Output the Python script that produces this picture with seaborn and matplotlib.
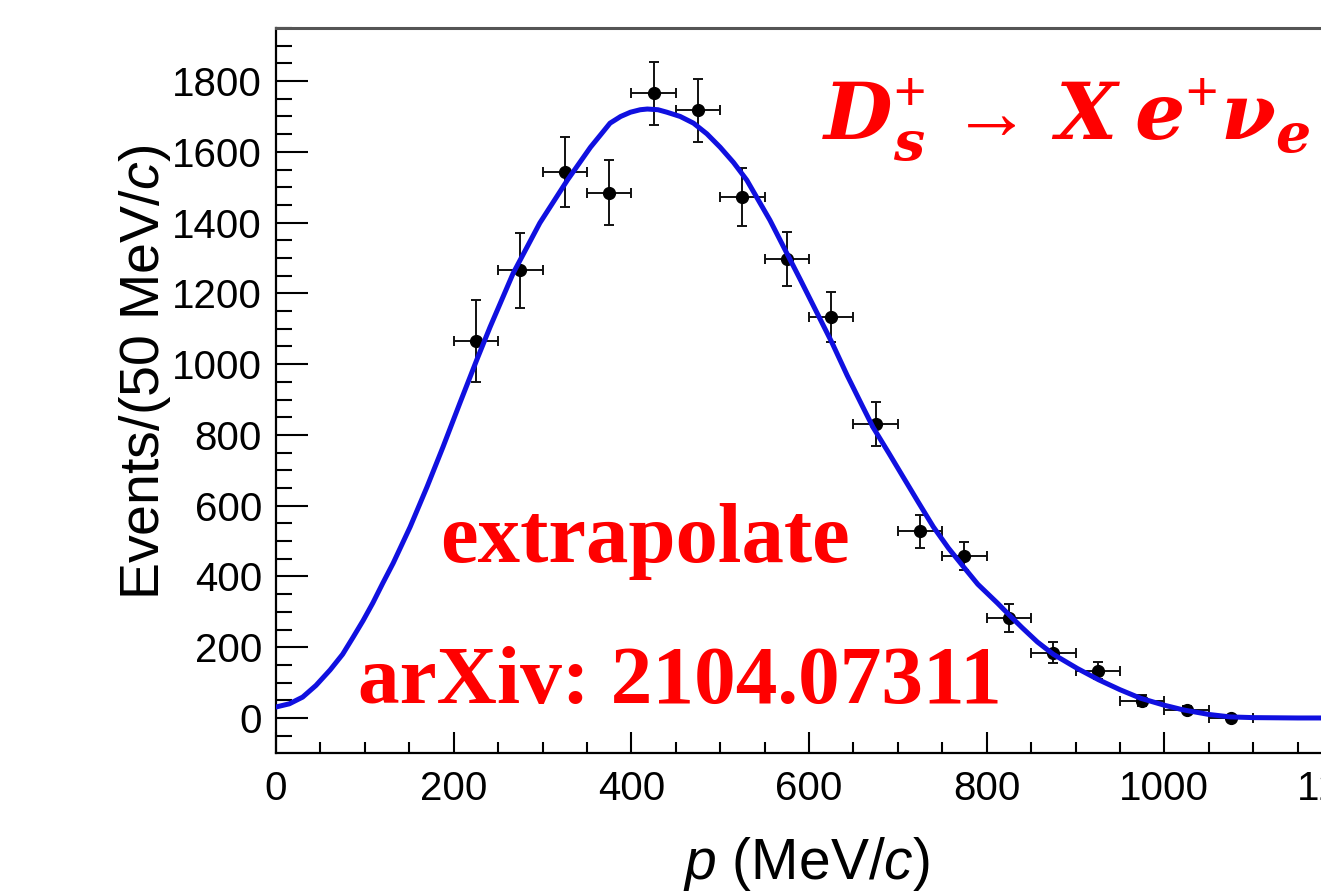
import matplotlib
matplotlib.use("Agg")
import matplotlib.pyplot as plt
from matplotlib.ticker import MultipleLocator
import seaborn as sns
import pandas as pd

# ---- data ----
bin_centers = [225, 275, 325, 375, 425, 475, 525, 575, 625, 675,
               725, 775, 825, 875, 925, 975, 1025, 1075]
events = [1066, 1265, 1544, 1485, 1765, 1718, 1471, 1297, 1133, 831,
          528, 458, 283, 185, 134, 49, 23, 1]
events_err = [116, 105, 99, 93, 88, 89, 82, 77, 71, 63,
              47, 40, 40, 30, 23, 15, 10, 6]
bin_halfwidth = [25] * len(bin_centers)

fit_p = [0, 15, 30, 45, 61, 75, 87, 98, 109, 120, 132, 151, 170, 188, 207,
         226, 241, 267, 297, 328, 354, 366, 376, 388, 399, 410, 418, 430,
         440, 455, 470, 485, 500, 515, 530, 556, 579, 590, 605, 615, 626,
         643, 660, 672, 690, 706, 723, 740, 757, 774, 790, 812, 825, 840,
         857, 875, 902, 926, 950, 973, 1000, 1021, 1050, 1074, 1100, 1150,
         1200]
fit_val = [31, 40, 59, 92, 136, 180, 229, 275, 325, 380, 438, 540, 653, 766,
           890, 1012, 1105, 1257, 1399, 1520, 1613, 1650, 1681, 1700, 1712,
           1719, 1721, 1719, 1712, 1700, 1681, 1651, 1613, 1570, 1520, 1407,
           1294, 1240, 1165, 1115, 1060, 968, 882, 822, 748, 681, 610, 540,
           480, 427, 378, 325, 292, 255, 215, 180, 140, 108, 80, 56, 36, 23,
           10, 3, 1, 0, 0]

x_major = 200
x_minor = 50
y_major = 200
y_minor = 50

x_label = r"$p$ (MeV/$c$)"
y_label = r"Events/(50 MeV/$c$)"
decay_label = (r"$\mathbfit{D}_{\mathbfit{s}}^{+}\,\rightarrow\,\mathbfit{X}\;"
               r"\mathbfit{e}^{+}\mathbfit{\nu}_{\mathbfit{e}}$")
text_extrap = "extrapolate"
text_arxiv = "arXiv: 2104.07311"

# ---- style ----
sns.set_theme(style="ticks")
plt.rcParams["font.family"] = ["Liberation Sans", "DejaVu Sans"]
plt.rcParams["mathtext.fontset"] = "custom"
plt.rcParams["mathtext.rm"] = "Liberation Sans"
plt.rcParams["mathtext.it"] = "Liberation Sans:italic"
plt.rcParams["mathtext.bf"] = "DejaVu Serif:bold"
plt.rcParams["mathtext.bfit"] = "DejaVu Serif:italic:bold"
plt.rcParams["text.color"] = "black"
plt.rcParams["axes.labelcolor"] = "black"

fig = plt.figure(figsize=(13.21, 8.91), dpi=100)
ax = fig.add_axes([276 / 1321, 138 / 891, 1066 / 1321, 725 / 891])

df_fit = pd.DataFrame({"p": fit_p, "val": fit_val})
df_pts = pd.DataFrame({"p": bin_centers, "n": events,
                       "err": events_err, "xerr": bin_halfwidth})

ax.errorbar(df_pts["p"], df_pts["n"], yerr=df_pts["err"], xerr=df_pts["xerr"],
            fmt="o", color="black", ecolor="#111111", elinewidth=1.4,
            capsize=3.5, capthick=1.4, markersize=8.5, zorder=2)
sns.lineplot(data=df_fit, x="p", y="val", color="#1010e0", linewidth=3.6,
             ax=ax, zorder=3, sort=True)

ax.set_xlim(0, 1200)
ax.set_ylim(-99, 1950)
ax.xaxis.set_major_locator(MultipleLocator(x_major))
ax.xaxis.set_minor_locator(MultipleLocator(x_minor))
ax.yaxis.set_major_locator(MultipleLocator(y_major))
ax.yaxis.set_minor_locator(MultipleLocator(y_minor))
ax.tick_params(axis="both", which="both", direction="in", colors="black",
               labelsize=29, width=1.5)
ax.tick_params(axis="x", which="major", length=15, pad=12)
ax.tick_params(axis="x", which="minor", length=8)
ax.tick_params(axis="y", which="major", length=23, pad=10)
ax.tick_params(axis="y", which="minor", length=11.5)
ax.tick_params(top=False, right=False, which="both")

for side in ["left", "bottom"]:
    ax.spines[side].set_linewidth(1.6)
    ax.spines[side].set_color("black")
ax.spines["top"].set_linewidth(2.2)
ax.spines["top"].set_color("#555555")
ax.spines["right"].set_visible(True)

ax.set_xlabel(x_label, fontsize=41, color="black")
ax.set_ylabel(y_label, fontsize=40, color="black")
ax.xaxis.set_label_coords(0.498, -0.113)
ax.yaxis.set_label_coords(-0.097, 0.525)

ax.text(615, 1633, decay_label, color="#ff0000", fontsize=57,
        ha="left", va="baseline")
ax.text(185, 441, text_extrap, color="#ff0000", fontsize=61,
        family="Liberation Serif", weight="bold", ha="left", va="baseline")
ax.text(92, 42, text_arxiv, color="#ff0000", fontsize=60,
        family="Liberation Serif", weight="bold", ha="left", va="baseline")

fig.savefig("out.png", dpi=100)
